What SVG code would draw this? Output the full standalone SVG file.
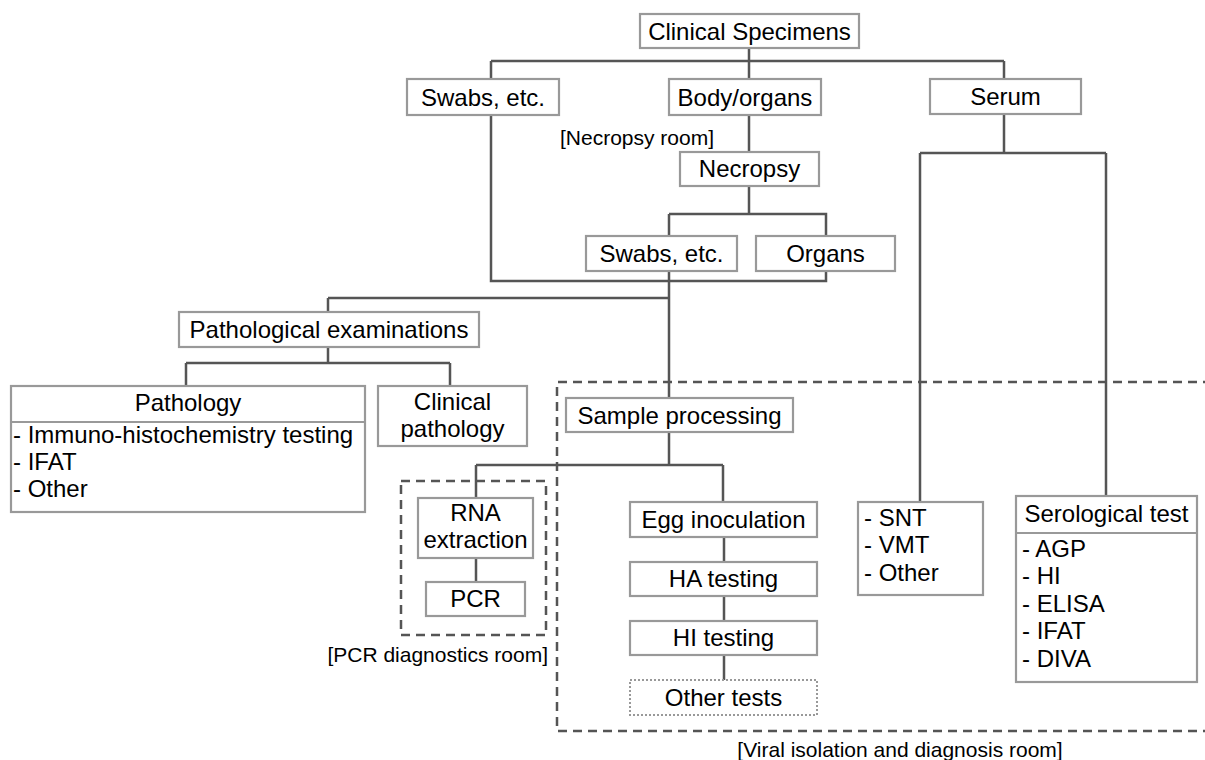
<svg xmlns="http://www.w3.org/2000/svg" width="1205" height="760" viewBox="0 0 1205 760">
<style>
.box{fill:#fff;stroke:#999;stroke-width:2.2}
.dot{fill:#fff;stroke:#999;stroke-width:2;stroke-dasharray:2 2}
.room{fill:none;stroke:#555;stroke-width:2.5;stroke-dasharray:9 6}
.c{fill:none;stroke:#555;stroke-width:2.5}
text{font-family:"Liberation Sans",Arial,sans-serif;font-size:24px;fill:#000}
.m{text-anchor:middle}
.lbl{font-size:21px}
</style>
<rect width="1205" height="760" fill="#fff"/>
<g id="rooms">
<path class="room" d="M1212,382 H557 V731 H1212"/>
<rect class="room" x="401" y="481" width="145" height="154"/>
<text class="lbl" x="714" y="145" text-anchor="end">[Necropsy room]</text>
<text class="lbl" x="548" y="662" text-anchor="end">[PCR diagnostics room]</text>
<text class="lbl m" x="900" y="757">[Viral isolation and diagnosis room]</text>
</g>
<g id="connectors">
<path class="c" d="M749,48 V61 M491,61 H1004 M491,61 V79 M749,61 V79 M1004,61 V79"/>
<path class="c" d="M491,115 V281 H826 V271"/>
<path class="c" d="M749,115 V152 M749,186 V214 M669,214 H826 V236 M669,214 V236"/>
<path class="c" d="M669,271 V398 M328,298 H669"/>
<path class="c" d="M328,298 V312 M328,347 V363 M186,363 H450 M186,363 V386 M450,363 V386"/>
<path class="c" d="M669,432 V465 M476,465 H723 M476,465 V498 M723,465 V502 M476,558 V582"/>
<path class="c" d="M724,537 V562 M724,596 V621 M724,655 V680"/>
<path class="c" d="M1004,114 V153 M920,153 H1106 M920,153 V502 M1106,153 V496"/>
</g>
<g id="clinical-specimens"><rect class="box" x="640" y="14" width="219" height="34"/><text class="m" x="749.5" y="39.5">Clinical Specimens</text></g>
<g id="swabs-top"><rect class="box" x="407" y="79" width="152" height="36"/><text class="m" x="483" y="106">Swabs, etc.</text></g>
<g id="body-organs"><rect class="box" x="669" y="79" width="152" height="36"/><text class="m" x="745" y="106">Body/organs</text></g>
<g id="serum"><rect class="box" x="930" y="79" width="151" height="35"/><text class="m" x="1005.5" y="105">Serum</text></g>
<g id="necropsy"><rect class="box" x="680" y="152" width="139" height="34"/><text class="m" x="749.5" y="177">Necropsy</text></g>
<g id="swabs-necropsy"><rect class="box" x="586" y="236" width="151" height="35"/><text class="m" x="661.5" y="262">Swabs, etc.</text></g>
<g id="organs"><rect class="box" x="756" y="236" width="139" height="35"/><text class="m" x="825.5" y="262">Organs</text></g>
<g id="pathological-examinations"><rect class="box" x="179" y="312" width="300" height="35"/><text class="m" x="329" y="338">Pathological examinations</text></g>
<g id="pathology"><rect class="box" x="11" y="386" width="354" height="126"/><line x1="11" y1="422" x2="365" y2="422" stroke="#999" stroke-width="2.2"/>
<text class="m" x="188" y="411">Pathology</text>
<text x="13" y="443">- Immuno-histochemistry testing</text>
<text x="13" y="470">- IFAT</text>
<text x="13" y="497">- Other</text></g>
<g id="clinical-pathology"><rect class="box" x="378" y="386" width="149" height="60"/><text class="m" x="452.5" y="410">Clinical</text><text class="m" x="452.5" y="437">pathology</text></g>
<g id="sample-processing"><rect class="box" x="566" y="398" width="227" height="34"/><text class="m" x="679.5" y="424">Sample processing</text></g>
<g id="rna-extraction"><rect class="box" x="418" y="498" width="115" height="60"/><text class="m" x="475.5" y="521">RNA</text><text class="m" x="475.5" y="548">extraction</text></g>
<g id="pcr"><rect class="box" x="426" y="582" width="99" height="34"/><text class="m" x="475.5" y="607">PCR</text></g>
<g id="egg-inoculation"><rect class="box" x="630" y="502" width="187" height="35"/><text class="m" x="723.5" y="528">Egg inoculation</text></g>
<g id="ha-testing"><rect class="box" x="630" y="562" width="187" height="34"/><text class="m" x="723.5" y="587">HA testing</text></g>
<g id="hi-testing"><rect class="box" x="630" y="621" width="187" height="34"/><text class="m" x="723.5" y="646">HI testing</text></g>
<g id="other-tests"><rect class="dot" x="630" y="680" width="187" height="35"/><text class="m" x="723.5" y="706">Other tests</text></g>
<g id="snt-vmt"><rect class="box" x="858" y="502" width="125" height="93"/>
<text x="864" y="526">- SNT</text><text x="864" y="553">- VMT</text><text x="864" y="581">- Other</text></g>
<g id="serological-test"><rect class="box" x="1016" y="496" width="181" height="186"/><line x1="1016" y1="533" x2="1197" y2="533" stroke="#999" stroke-width="2.2"/>
<text class="m" x="1106.5" y="522">Serological test</text>
<text x="1022" y="557">- AGP</text><text x="1022" y="584">- HI</text><text x="1022" y="612">- ELISA</text><text x="1022" y="639">- IFAT</text><text x="1022" y="667">- DIVA</text></g>
</svg>
